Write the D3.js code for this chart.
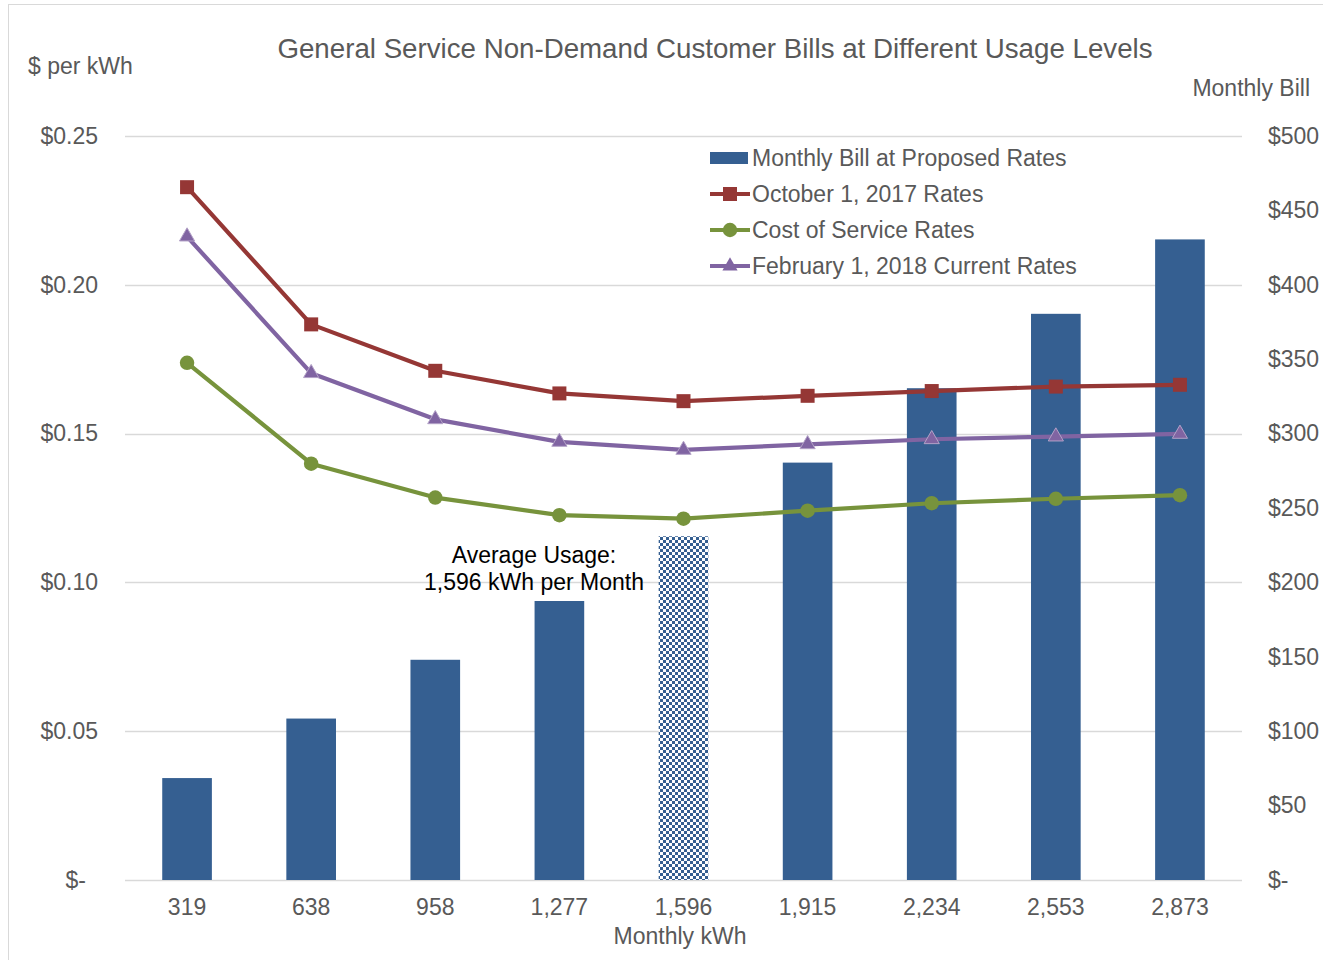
<!DOCTYPE html>
<html>
<head>
<meta charset="utf-8">
<script src="https://cdn.jsdelivr.net/npm/d3@7"></script>
<style>
  html, body { margin: 0; padding: 0; background: #fff; }
  svg { display: block; font-family: "Liberation Sans", Arial, sans-serif; }
</style>
</head>
<body>
<svg id="chart" width="1323" height="960"></svg>
<script>
// Monthly usage levels (kWh)
const usage = ["319", "638", "958", "1,277", "1,596", "1,915", "2,234", "2,553", "2,873"];
// Monthly bill at proposed rates ($)
const monthlyBill = [68.5, 108.5, 148, 187.5, 231, 280.5, 330.5, 380.5, 430.5];
// Effective $ per kWh under each rate schedule
const oct2017Rates = [0.2328, 0.1867, 0.1711, 0.1635, 0.1609, 0.1627, 0.1643, 0.1658, 0.1664];
const costOfServiceRates = [0.1738, 0.1399, 0.1285, 0.1226, 0.1214, 0.1241, 0.1266, 0.1281, 0.1293];
const feb2018Rates = [0.2162, 0.1703, 0.1548, 0.1472, 0.1445, 0.1464, 0.1481, 0.1490, 0.1499];
// Axis ticks
const leftTicks = [0, 0.05, 0.10, 0.15, 0.20, 0.25];
const rightTicks = [0, 50, 100, 150, 200, 250, 300, 350, 400, 450, 500];
const averageUsage = "1,596";

const svg = d3.select("#chart");
const plot = { left: 125, right: 1242, top: 136, bottom: 880 };
const textColor = "#595959";
const gridColor = "#d9d9d9";
const barColor = "#355f91";
const fs = 23;

// Outer chart frame
svg.append("rect")
  .attr("x", 8.5).attr("y", 4.5).attr("width", 1340).attr("height", 980)
  .attr("fill", "#fff").attr("stroke", gridColor).attr("stroke-width", 1);

const x = d3.scaleBand().domain(usage).range([plot.left, plot.right]).paddingInner(0.6).paddingOuter(0.3);
const yLeft = d3.scaleLinear().domain([0, 0.25]).range([plot.bottom, plot.top]);
const yRight = d3.scaleLinear().domain([0, 500]).range([plot.bottom, plot.top]);

// Checkered fill for the average-usage bar
const defs = svg.append("defs");
const pat = defs.append("pattern").attr("id", "checker")
  .attr("patternUnits", "userSpaceOnUse").attr("width", 6).attr("height", 6);
pat.append("rect").attr("width", 6).attr("height", 6).attr("fill", barColor);
pat.append("rect").attr("x", 0).attr("y", 0).attr("width", 3).attr("height", 3).attr("fill", "#fff");
pat.append("rect").attr("x", 3).attr("y", 3).attr("width", 3).attr("height", 3).attr("fill", "#fff");

// Gridlines
svg.append("g").selectAll("line").data(leftTicks).join("line")
  .attr("x1", plot.left).attr("x2", plot.right)
  .attr("y1", d => Math.round(yLeft(d)) + 0.5).attr("y2", d => Math.round(yLeft(d)) + 0.5)
  .attr("stroke", gridColor).attr("stroke-width", 1.3);

const styleText = sel => sel.attr("fill", textColor).attr("font-size", fs)
  .attr("font-family", "Liberation Sans, Arial, sans-serif");

// Left axis labels (accounting format: zero shown as "$-" with trailing pad)
const fmtLeft = d => d === 0 ? "$-" : "$" + d3.format(".2f")(d);
const leftAxis = d3.axisLeft(yLeft).tickValues(leftTicks).tickFormat(fmtLeft).tickSize(0).tickPadding(0);
const gL = svg.append("g").attr("transform", "translate(98,0)").call(leftAxis);
gL.select(".domain").remove();
gL.selectAll("text").call(styleText).attr("dx", d => d === 0 ? -12 : 0);

// Right axis labels
const fmtRight = d => d === 0 ? "$-" : "$" + d;
const rightAxis = d3.axisRight(yRight).tickValues(rightTicks).tickFormat(fmtRight).tickSize(0).tickPadding(0);
const gR = svg.append("g").attr("transform", "translate(1268,0)").call(rightAxis);
gR.select(".domain").remove();
gR.selectAll("text").call(styleText);

// Category labels
const xAxis = d3.axisBottom(x).tickSize(0).tickPadding(0);
const gX = svg.append("g").attr("transform", `translate(0,${plot.bottom + 19})`).call(xAxis);
gX.select(".domain").remove();
gX.selectAll("text").call(styleText);

// Bars
svg.append("g").selectAll("rect").data(usage).join("rect")
  .attr("x", d => x(d)).attr("width", x.bandwidth())
  .attr("y", (d, i) => yRight(monthlyBill[i]))
  .attr("height", (d, i) => plot.bottom - yRight(monthlyBill[i]))
  .attr("fill", d => d === averageUsage ? "url(#checker)" : barColor);

// Lines with markers
const cx = d => x(d) + x.bandwidth() / 2;
const lineGen = vals => d3.line().x((d, i) => cx(usage[i])).y(d => yLeft(d))(vals);
const series = [
  { name: "October 1, 2017 Rates", vals: oct2017Rates, color: "#953735", marker: "square" },
  { name: "Cost of Service Rates", vals: costOfServiceRates, color: "#77933c", marker: "circle" },
  { name: "February 1, 2018 Current Rates", vals: feb2018Rates, color: "#8064a2", marker: "triangle" }
];
const symbolFor = m => m === "square" ? d3.symbol(d3.symbolSquare, 196)
  : m === "circle" ? d3.symbol(d3.symbolCircle, 165)
  : d3.symbol(d3.symbolTriangle, 100);

series.forEach(s => {
  const g = svg.append("g");
  g.append("path").attr("d", lineGen(s.vals)).attr("fill", "none")
    .attr("stroke", s.color).attr("stroke-width", 4.2).attr("stroke-linejoin", "round");
  g.selectAll("path.m").data(s.vals).join("path").attr("class", "m")
    .attr("d", symbolFor(s.marker)())
    .attr("transform", (d, i) => `translate(${cx(usage[i])},${yLeft(d)})`)
    .attr("fill", s.color)
    .attr("stroke", s.marker === "triangle" ? "#b3a2c7" : "none").attr("stroke-width", 1);
});

// Titles
svg.append("text").attr("x", 715).attr("y", 58).attr("text-anchor", "middle")
  .attr("font-size", 27.7).attr("fill", textColor)
  .text("General Service Non-Demand Customer Bills at Different Usage Levels");
svg.append("text").attr("x", 28).attr("y", 74).attr("font-size", fs).attr("fill", textColor).text("$ per kWh");
svg.append("text").attr("x", 1310).attr("y", 96).attr("text-anchor", "end").attr("font-size", fs).attr("fill", textColor).text("Monthly Bill");
svg.append("text").attr("x", 680).attr("y", 944).attr("text-anchor", "middle").attr("font-size", fs).attr("fill", textColor).text("Monthly kWh");

// Average usage note
const note = svg.append("text").attr("text-anchor", "middle").attr("font-size", fs).attr("fill", "#000");
note.append("tspan").attr("x", 534).attr("y", 563).text("Average Usage:");
note.append("tspan").attr("x", 534).attr("y", 590).text("1,596 kWh per Month");

// Legend
const lg = svg.append("g");
const lx = 710, rows = [158, 194, 230, 266];
lg.append("rect").attr("x", lx).attr("y", rows[0] - 6).attr("width", 38).attr("height", 12).attr("fill", barColor);
lg.append("text").attr("x", 752).attr("y", rows[0] + 8).attr("font-size", fs).attr("fill", textColor).text("Monthly Bill at Proposed Rates");
series.forEach((s, i) => {
  const yy = rows[i + 1];
  lg.append("line").attr("x1", lx).attr("x2", lx + 40).attr("y1", yy).attr("y2", yy)
    .attr("stroke", s.color).attr("stroke-width", 4.2);
  lg.append("path").attr("d", symbolFor(s.marker)()).attr("transform", `translate(${lx + 20},${yy})`)
    .attr("fill", s.color);
  lg.append("text").attr("x", 752).attr("y", yy + 8).attr("font-size", fs).attr("fill", textColor).text(s.name);
});
</script>
</body>
</html>
